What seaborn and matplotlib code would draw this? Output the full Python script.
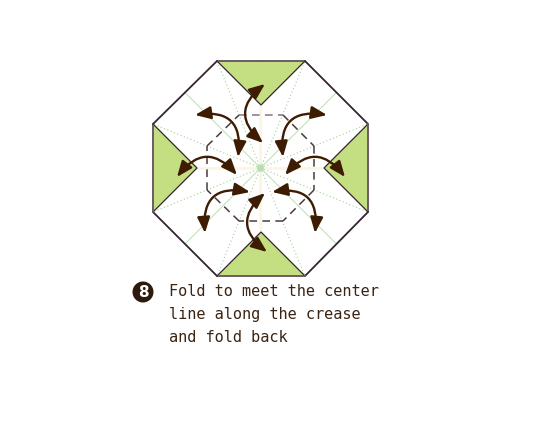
import matplotlib
matplotlib.use("Agg")
import matplotlib.pyplot as plt
from matplotlib.patches import Polygon, FancyArrowPatch, Circle
import seaborn as sns

# geometry (pixel coordinates, y down)
center = (260.5, 168)
oct_x = [217, 305, 368, 368, 305, 217, 153, 153]
oct_y = [61, 61, 124, 212, 276, 276, 212, 124]
inner_x = [239, 283, 314, 314, 283, 239, 207, 207]
inner_y = [115, 115, 146, 190, 221, 221, 190, 146]
flaps = {
    "top": [(217, 61), (305, 61), (261, 105)],
    "right": [(368, 124), (368, 212), (324, 168)],
    "bottom": [(217, 276), (305, 276), (261, 232)],
    "left": [(153, 124), (153, 212), (197, 168)],
}
# double-headed fold arrows: start, end, curvature
arrow_start = [(265, 84), (195, 115), (327, 115), (177, 177),
               (345, 177), (205, 233), (315, 233), (267, 252)]
arrow_end = [(263, 143), (238, 157), (283, 157), (237, 175),
             (285, 175), (250, 192), (272, 192), (265, 193)]
arrow_rad = [0.6, -0.65, 0.65, -0.6, 0.6, -0.65, 0.65, -0.6]
step_no = "8"
caption = ["Fold to meet the center", "line along the crease", "and fold back"]

GREEN = "#c3df82"
BROWN = "#3d1c02"
EDGE = "#35242f"

sns.set_theme(style="white")
plt.rcParams["font.family"] = ["DejaVu Sans Mono", "DejaVu Sans"]

fig = plt.figure(figsize=(5.44, 4.29), dpi=100)
ax = fig.add_axes([0, 0, 1, 1])
ax.set_xlim(0, 544)
ax.set_ylim(429, 0)
ax.set_aspect("equal")
ax.axis("off")

# paper
ax.add_patch(Polygon(list(zip(oct_x, oct_y)), closed=True, facecolor="white",
                     edgecolor="none", zorder=1))

# crease lines
cx, cy = center
n = len(oct_x)
for i in range(n):
    ax.plot([cx, oct_x[i]], [cy, oct_y[i]], color="#a3d09a", lw=0.8,
            ls=(0, (1, 2.2)), zorder=2)
    mx = (oct_x[i] + oct_x[(i + 1) % n]) / 2
    my = (oct_y[i] + oct_y[(i + 1) % n]) / 2
    if i % 2 == 0:
        ax.plot([cx, mx], [cy, my], color="#fcf5e2", lw=2.0, zorder=2)
    else:
        ax.plot([cx, mx], [cy, my], color="#bcdeb3", lw=0.7, zorder=2)
ax.add_patch(Circle(center, 3.5, facecolor="#b8dcb8", edgecolor="none", zorder=3))

# folded flaps
for pts in flaps.values():
    ax.add_patch(Polygon(pts, closed=True, facecolor=GREEN, edgecolor=EDGE,
                         lw=0.9, zorder=4))

# outline
for i in range(n):
    j = (i + 1) % n
    col = "#6f5c66" if i % 2 == 0 else EDGE
    ax.plot([oct_x[i], oct_x[j]], [oct_y[i], oct_y[j]], color=col, lw=1.3,
            solid_capstyle="round", zorder=5)

# dashed target octagon
for i in range(n):
    j = (i + 1) % n
    col = "#8c727c" if i == 0 else "#4a3a3c"
    ax.plot([inner_x[i], inner_x[j]], [inner_y[i], inner_y[j]], color=col,
            lw=1.1, ls=(0, (5, 3.5)), zorder=5)

# arrows
for a, b, r in zip(arrow_start, arrow_end, arrow_rad):
    ax.add_patch(FancyArrowPatch(
        a, b, connectionstyle=f"arc3,rad={r}",
        arrowstyle="<|-|>,head_length=0.47,head_width=0.19",
        mutation_scale=20, color=BROWN, lw=1.7, shrinkA=0, shrinkB=0,
        zorder=6))

# step number and caption
ax.add_patch(Circle((143, 292), 10.5, facecolor="#2e1a0c", edgecolor="none",
                    zorder=7))
ax.text(143, 292.5, step_no, color="white", fontsize=11, fontweight="bold",
        ha="center", va="center", family="DejaVu Sans", zorder=8)
for k, line in enumerate(caption):
    ax.text(169, 292 + 22.5 * k, line, color="#3a2414", fontsize=11,
            ha="left", va="center", zorder=8)

fig.savefig("out.png", dpi=100)
